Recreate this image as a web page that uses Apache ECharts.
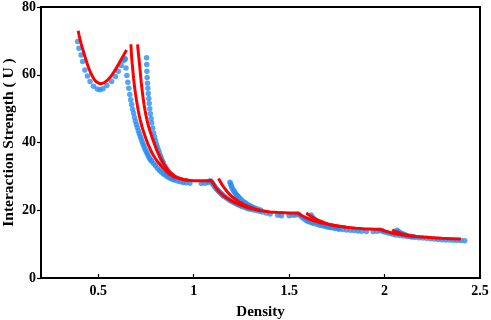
<!DOCTYPE html>
<html>
<head>
<meta charset="utf-8">
<script src="https://cdn.jsdelivr.net/npm/echarts@6/dist/echarts.min.js"></script>
<style>html,body{margin:0;padding:0;background:#fff}#c{width:491px;height:320px}</style>
</head>
<body>
<div id="c"></div>
<script>
// x tick labels
const xTicks = [0.5, 1, 1.5, 2, 2.5];
const yTicks = [0, 20, 40, 60, 80];

// Blue (dotted) branches: [density, U]
const blueA = [[0.392,69.8],[0.399,67.8],[0.41,65.8],[0.418,63.9],[0.43,61.4],[0.443,59.6],[0.457,58],[0.475,56.6],[0.495,55.8],[0.509,55.6],[0.525,55.9],[0.545,56.8],[0.57,58],[0.59,59.5],[0.605,61],[0.62,62.7],[0.631,64.1],[0.64,64.8]];
const blueB = [[0.64,64.5],[0.645,62],[0.65,59.8],[0.655,57.8],[0.66,56],[0.665,54.2],[0.67,52.6],[0.675,51.2],[0.68,49.8],[0.685,48.6],[0.69,47.4],[0.695,46.3],[0.70,45.3],[0.705,44.4],[0.71,43.5],[0.715,42.6],[0.72,41.8],[0.725,41],[0.73,40.2],[0.735,39.5],[0.74,38.8],[0.745,38.1],[0.75,37.5],[0.755,36.9],[0.76,36.3],[0.765,35.7],[0.77,35.2],[0.775,34.8],[0.78,34.5],[0.79,33.8],[0.80,33.1],[0.81,32.4],[0.82,31.8],[0.83,31.3],[0.84,30.8],[0.85,30.4],[0.86,30.0],[0.87,29.7],[0.88,29.4],[0.89,29.1],[0.90,28.9],[0.915,28.6],[0.93,28.4],[0.945,28.2],[0.96,28.1],[0.98,27.95],[1.04,27.9],[1.06,27.95],[1.075,28.2],[1.085,28.6],[1.09,28.6],[1.095,28.2],[1.10,27.8],[1.105,27.4],[1.11,27.0],[1.115,26.6],[1.12,26.3],[1.125,26.0],[1.13,25.7],[1.135,25.4],[1.14,25.1],[1.145,24.8],[1.15,24.6],[1.155,24.3],[1.16,24.1],[1.17,23.7],[1.18,23.3],[1.19,22.9],[1.20,22.6],[1.21,22.3],[1.22,22.0],[1.23,21.7],[1.24,21.5],[1.25,21.2],[1.26,21.0],[1.27,20.8],[1.28,20.6],[1.29,20.4],[1.30,20.3],[1.315,20.1],[1.33,19.9],[1.345,19.7],[1.36,19.5],[1.38,19.2],[1.40,18.9],[1.44,18.5],[1.46,18.4],[1.50,18.4],[1.52,18.5],[1.535,18.6],[1.55,18.8],[1.56,18.3],[1.57,17.8],[1.58,17.4],[1.59,17.0],[1.60,16.7],[1.61,16.5],[1.62,16.3],[1.63,16.1],[1.645,15.85],[1.66,15.6],[1.675,15.4],[1.69,15.2],[1.705,15.0],[1.72,14.8],[1.74,14.6],[1.76,14.4],[1.78,14.3],[1.80,14.2],[1.82,14.1],[1.84,14.0],[1.86,13.9],[1.88,13.8],[1.905,13.7],[1.94,13.7],[1.96,13.8],[1.975,14.0],[1.985,14.0],[1.99,13.8],[2.00,13.6],[2.015,13.35],[2.03,13.1],[2.045,12.9],[2.06,12.7],[2.08,12.55],[2.10,12.4],[2.12,12.25],[2.14,12.1],[2.16,12.0],[2.18,11.9],[2.20,11.8],[2.22,11.7],[2.24,11.6],[2.26,11.5],[2.28,11.4],[2.30,11.3],[2.32,11.25],[2.34,11.2],[2.36,11.15],[2.38,11.1],[2.40,11.05],[2.42,11.0]];
const blueC = [[0.753,65],[0.754,63],[0.755,61],[0.756,59.2],[0.758,57.5],[0.76,56],[0.762,54.5],[0.765,53],[0.767,51.5],[0.77,50],[0.773,48.5],[0.777,47.1],[0.78,45.8],[0.785,44.3],[0.79,42.8],[0.795,41.6],[0.80,40.5],[0.805,39.5],[0.81,38.6],[0.815,37.7],[0.82,36.9],[0.825,36.1],[0.83,35.4],[0.835,34.7],[0.84,34.1],[0.85,33.0],[0.86,32.1],[0.87,31.3],[0.88,30.6],[0.89,30.1],[0.90,29.6]];
const blueD = [[1.19,28.3],[1.193,27.8],[1.197,27.2],[1.20,26.7],[1.205,26.2],[1.21,25.7],[1.215,25.3],[1.22,24.9],[1.225,24.5],[1.23,24.2],[1.235,23.9],[1.24,23.6],[1.25,23.1],[1.26,22.6],[1.27,22.2],[1.28,21.8],[1.29,21.5],[1.30,21.2],[1.31,20.9],[1.32,20.7],[1.335,20.4],[1.35,20.1]];
const blueE = [[1.615,18.6],[1.62,18.0],[1.625,17.7],[1.63,17.4],[1.64,17.0],[1.65,16.7],[1.66,16.4],[1.67,16.1],[1.685,15.8],[1.70,15.5],[1.715,15.25],[1.73,15.0],[1.745,14.8],[1.76,14.6]];
const blueF = [[2.065,14.1],[2.07,13.8],[2.075,13.6],[2.08,13.4],[2.09,13.15],[2.10,12.9],[2.11,12.7],[2.12,12.5],[2.135,12.35],[2.15,12.2]];

// Red (solid) branches: [density, U]
const redA = [[0.395,73],[0.40,71.5],[0.41,69.2],[0.42,67.3],[0.43,65.4],[0.44,63.6],[0.45,62],[0.46,60.6],[0.47,59.5],[0.48,58.5],[0.49,57.9],[0.50,57.5],[0.51,57.3],[0.52,57.4],[0.53,57.6],[0.54,58],[0.55,58.5],[0.56,59.1],[0.57,59.8],[0.58,60.6],[0.59,61.5],[0.60,62.5],[0.61,63.5],[0.62,64.5],[0.63,65.5],[0.64,66.5],[0.648,67.3]];
const redB = [[0.671,69],[0.673,67],[0.675,65.3],[0.678,63.2],[0.68,62],[0.685,59],[0.69,56.5],[0.695,54.5],[0.70,52.6],[0.705,50.9],[0.71,49.3],[0.715,47.9],[0.72,46.6],[0.73,44.5],[0.74,42.7],[0.75,41.1],[0.76,39.6],[0.77,38.3],[0.78,37.1],[0.79,36.1],[0.80,35.2],[0.81,34.4],[0.82,33.7],[0.835,32.7],[0.85,31.8],[0.865,31.0],[0.88,30.4],[0.90,29.8],[0.92,29.4],[0.94,29.1],[0.96,28.9],[0.98,28.8],[1.00,28.7],[1.03,28.7],[1.06,28.7],[1.09,28.8],[1.095,28.9],[1.10,28.2],[1.105,27.7],[1.11,27.2],[1.115,26.8],[1.12,26.4],[1.13,25.7],[1.14,25.1],[1.15,24.6],[1.16,24.1],[1.17,23.7],[1.185,23.2],[1.20,22.7],[1.215,22.3],[1.23,21.9],[1.245,21.5],[1.26,21.2],[1.28,20.8],[1.30,20.5],[1.325,20.2],[1.35,19.9],[1.375,19.7],[1.40,19.5],[1.425,19.4],[1.45,19.3],[1.50,19.2],[1.545,19.2],[1.55,19.0],[1.56,18.6],[1.57,18.3],[1.585,17.9],[1.60,17.5],[1.615,17.2],[1.63,16.9],[1.645,16.65],[1.66,16.4],[1.68,16.15],[1.70,15.9],[1.725,15.65],[1.75,15.4],[1.775,15.2],[1.80,15.0],[1.825,14.85],[1.85,14.7],[1.875,14.6],[1.90,14.5],[1.925,14.45],[1.95,14.4],[1.975,14.4],[1.985,14.2],[2.00,13.9],[2.015,13.65],[2.03,13.4],[2.045,13.2],[2.06,13.0],[2.08,12.85],[2.10,12.7],[2.125,12.5],[2.15,12.3],[2.175,12.2],[2.20,12.1],[2.25,11.9],[2.30,11.7],[2.35,11.6],[2.40,11.5]];
const redC = [[0.706,69],[0.708,67.6],[0.71,66.5],[0.713,65],[0.715,63.8],[0.718,62],[0.72,60.8],[0.725,57.8],[0.73,55.3],[0.735,53.1],[0.74,51.2],[0.745,49.5],[0.75,48],[0.755,46.7],[0.76,45.5],[0.765,44.5],[0.77,43.6],[0.78,41.8],[0.79,40.2],[0.80,38.7],[0.81,37.3],[0.82,36.1],[0.83,35],[0.84,34],[0.85,33.1],[0.86,32.3],[0.87,31.6],[0.88,31],[0.89,30.5],[0.90,30.1],[0.915,29.7],[0.93,29.4],[0.95,29.1],[0.97,28.9]];
const redD = [[1.13,29.4],[1.135,28.9],[1.14,28.4],[1.145,27.9],[1.15,27.4],[1.155,27.0],[1.16,26.6],[1.17,25.9],[1.18,25.2],[1.19,24.6],[1.20,24.1],[1.21,23.6],[1.22,23.2],[1.235,22.6],[1.25,22.1],[1.265,21.6],[1.28,21.2],[1.295,20.9],[1.31,20.6],[1.33,20.2],[1.35,19.9]];
const redE = [[1.59,19.2],[1.595,19.0],[1.60,18.8],[1.61,18.4],[1.62,18.0],[1.635,17.5],[1.65,17.1],[1.665,16.75],[1.68,16.4],[1.70,16.05],[1.72,15.7],[1.74,15.45],[1.76,15.25],[1.78,15.1],[1.80,15.0]];
const redF = [[2.04,14.2],[2.045,14.05],[2.05,13.9],[2.06,13.65],[2.07,13.4],[2.085,13.15],[2.10,12.9],[2.115,12.7],[2.13,12.5],[2.145,12.4],[2.16,12.3]];

const blueBranches = [blueA, blueB, blueC, blueD, blueE, blueF];
const redBranches = [redA, redB, redC, redD, redE, redF];

const FONT = '"Liberation Serif","DejaVu Serif",serif';
const series = [];
blueBranches.forEach(d => series.push({
  type: 'scatter', data: d, symbol: 'circle', symbolSize: 5.5,
  itemStyle: { color: '#2b8ef0' }, silent: true, z: 2
}));
redBranches.forEach(d => series.push({
  type: 'line', data: d, showSymbol: false, smooth: false,
  lineStyle: { color: '#ff0000', width: 3 }, silent: true, z: 3
}));

const chart = echarts.init(document.getElementById('c'), null, { renderer: 'canvas' });
chart.setOption({
  animation: false,
  backgroundColor: '#ffffff',
  grid: { left: 41, right: 11, top: 7, bottom: 42, outerBoundsMode: 'none', containLabel: false, show: true, borderColor: '#000', borderWidth: 2, backgroundColor: 'transparent' },
  xAxis: {
    type: 'value', min: 0.2, max: 2.5,
    name: 'Density', nameLocation: 'middle', nameGap: 27, nameMoveOverlap: false,
    nameTextStyle: { fontFamily: FONT, fontWeight: 'bold', fontSize: 15, color: '#000' },
    axisLine: { show: true, onZero: false, lineStyle: { color: '#000', width: 2 } },
    axisTick: { show: true, inside: true, length: 4, customValues: xTicks, lineStyle: { color: '#000', width: 1.2 } },
    axisLabel: { customValues: xTicks, margin: 6, fontFamily: FONT, fontWeight: 'bold', fontSize: 14, color: '#000', formatter: v => String(v) },
    splitLine: { show: false }
  },
  yAxis: {
    type: 'value', min: 0, max: 80, interval: 20,
    name: 'Interaction Strength ( U )', nameLocation: 'middle', nameGap: 24, nameMoveOverlap: false,
    nameTextStyle: { fontFamily: FONT, fontWeight: 'bold', fontSize: 15.5, color: '#000' },
    axisLine: { show: true, lineStyle: { color: '#000', width: 2 } },
    axisTick: { show: true, inside: false, length: 4, lineStyle: { color: '#000', width: 1.2 } },
    axisLabel: { margin: 5, fontFamily: FONT, fontWeight: 'bold', fontSize: 14, color: '#000' },
    splitLine: { show: false }
  },
  series: series
});
</script>
</body>
</html>
